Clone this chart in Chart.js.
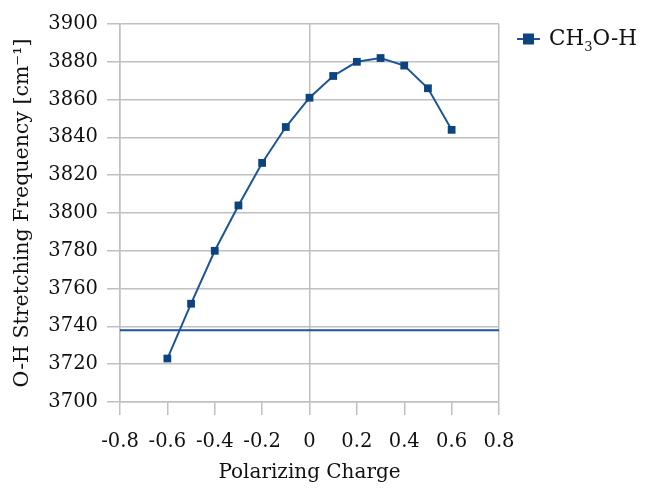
<!DOCTYPE html>
<html>
<head>
<meta charset="utf-8">
<script src="https://cdn.jsdelivr.net/npm/chart.js@4/dist/chart.umd.min.js"></script>
<style>
    html, body { margin: 0; padding: 0; background: #fff; }
    #wrap { width: 649px; height: 488px; }
</style>
</head>
<body>
<div id="wrap"><canvas id="oh-chart" width="649" height="488"></canvas></div>
<script>
// polarizing charge vs O-H stretching frequency
const charges = [-0.6, -0.5, -0.4, -0.3, -0.2, -0.1, 0, 0.1, 0.2, 0.3, 0.4, 0.5, 0.6];
const frequencies = [3723, 3752, 3780, 3804, 3826.5, 3845.5, 3861, 3872.5, 3880, 3882, 3878, 3866, 3844];
const refLineX = [-0.8, 0.8];
const refLineY = [3738, 3738];
const seriesName = ['CH', '3', 'O-H'];

const colors = {
    line: '#1c559a',
    marker: '#0d437f',
    grid: '#c0c0c0',
    text: '#111111'
};
const serif = "'DejaVu Serif', serif";

const isEdge = v => Math.abs(v) < 1e-9 || Math.abs(Math.abs(v) - 0.8) < 1e-9;

// legend drawn by hand so the subscript 3 looks right
const legendPlugin = {
    id: 'chemLegend',
    afterDraw(chart) {
        const c = chart.ctx;
        const y = 39;
        c.save();
        c.strokeStyle = colors.line;
        c.lineWidth = 2;
        c.beginPath();
        c.moveTo(517, y);
        c.lineTo(540, y);
        c.stroke();
        c.fillStyle = colors.marker;
        c.fillRect(523, y - 5.5, 11, 11);
        c.fillStyle = colors.text;
        c.textBaseline = 'middle';
        c.font = '21.5px ' + serif;
        let x = 549;
        c.fillText(seriesName[0], x, y);
        x += c.measureText(seriesName[0]).width;
        c.font = '13px ' + serif;
        c.fillText(seriesName[1], x, y + 9);
        x += c.measureText(seriesName[1]).width;
        c.font = '21.5px ' + serif;
        c.fillText(seriesName[2], x, y);
        c.restore();
    }
};

new Chart(document.getElementById('oh-chart'), {
    type: 'scatter',
    data: {
        datasets: [{
            label: 'CH3O-H',
            data: charges.map((x, i) => ({ x, y: frequencies[i] })),
            showLine: true,
            borderColor: colors.line,
            borderWidth: 2,
            backgroundColor: colors.marker,
            pointStyle: 'rect',
            pointRadius: 5.5,
            pointBorderWidth: 0,
            order: 1
        }, {
            label: 'ref',
            data: refLineX.map((x, i) => ({ x, y: refLineY[i] })),
            showLine: true,
            borderColor: colors.line,
            borderWidth: 2,
            pointRadius: 0,
            order: 2
        }]
    },
    options: {
        responsive: false,
        animation: false,
        layout: { padding: { left: 0, top: 24, right: 150, bottom: 0 } },
        plugins: {
            legend: { display: false },
            tooltip: { enabled: false }
        },
        scales: {
            x: {
                type: 'linear',
                min: -0.8,
                max: 0.8,
                afterFit: s => { s.height = 86; },
                border: { color: colors.grid, width: 1.5 },
                grid: {
                    color: ctx => isEdge(ctx.tick.value) ? colors.grid : 'transparent',
                    lineWidth: 1.5,
                    tickColor: colors.grid,
                    tickLength: 13
                },
                ticks: {
                    stepSize: 0.2,
                    color: colors.text,
                    font: { family: serif, size: 19.5 },
                    padding: 15,
                    callback: v => {
                        const r = Math.round(v * 10) / 10;
                        return r === 0 ? '0' : r.toFixed(1);
                    }
                },
                title: {
                    display: true,
                    text: 'Polarizing Charge',
                    color: colors.text,
                    font: { family: serif, size: 20 },
                    padding: { top: 0, bottom: 3 }
                }
            },
            y: {
                min: 3700,
                max: 3900,
                afterFit: s => { s.width = 120; },
                border: { color: colors.grid, width: 1.5 },
                grid: {
                    color: colors.grid,
                    lineWidth: 1.5,
                    tickColor: colors.grid,
                    tickLength: 13
                },
                ticks: {
                    stepSize: 20,
                    color: colors.text,
                    font: { family: serif, size: 19.5 },
                    padding: 9,
                    callback: v => String(v)
                },
                title: {
                    display: true,
                    text: 'O-H Stretching Frequency [cm\u207B\u00B9]',
                    color: colors.text,
                    font: { family: serif, size: 20.5 },
                    padding: { top: 10, bottom: 0 }
                }
            }
        }
    },
    plugins: [legendPlugin]
});
</script>
</body>
</html>
